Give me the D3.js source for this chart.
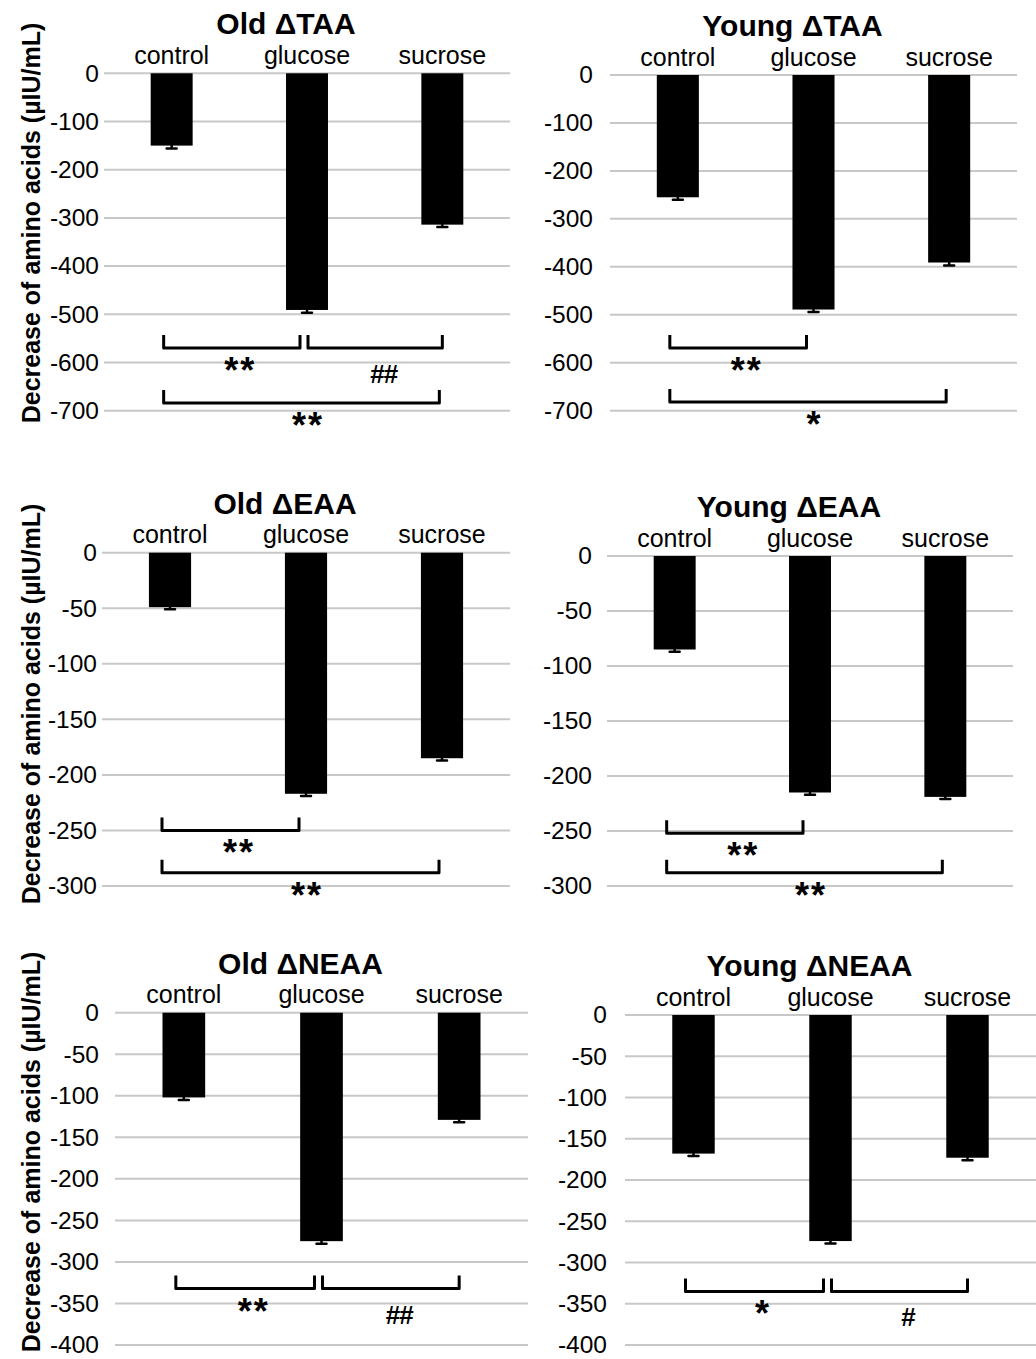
<!DOCTYPE html>
<html>
<head>
<meta charset="utf-8">
<script src="https://cdn.jsdelivr.net/npm/d3@7"></script>
<style>
body { margin: 0; background: #fff; }
svg { display: block; }
text { font-family: "Liberation Sans", Arial, sans-serif; fill: #000; }
</style>
</head>
<body>
<div id="chart"></div>
<script>
var categories = ["control", "glucose", "sucrose"];
var titles = ["Old ΔTAA", "Young ΔTAA", "Old ΔEAA", "Young ΔEAA", "Old ΔNEAA", "Young ΔNEAA"];
var yTitle = "Decrease of amino acids (µIU/mL)";

// bar heights (negative = decrease) and their small error bars
var oldTAA = [-150, -491, -314];
var youngTAA = [-255, -489, -391];
var oldEAA = [-49, -217, -185];
var youngEAA = [-85, -215, -219];
var oldNEAA = [-102, -275, -129];
var youngNEAA = [-168, -274, -173];

var oldTAAErr = [6, 6, 5];
var youngTAAErr = [5, 5, 6];
var oldEAAErr = [2, 2, 2];
var youngEAAErr = [2, 2, 2];
var oldNEAAErr = [3, 3, 3];
var youngNEAAErr = [3, 3, 3];

var taaTicks = [0, -100, -200, -300, -400, -500, -600, -700];
var eaaTicks = [0, -50, -100, -150, -200, -250, -300];
var neaaTicks = [0, -50, -100, -150, -200, -250, -300, -350, -400];

// significance brackets: from/to = category index, at = bracket level
var oldTAASig = [
    {from: 0, to: 1, at: -570, label: "**"},
    {from: 1, to: 2, at: -570, label: "##"},
    {from: 0, to: 2, at: -684, label: "**"}
];
var youngTAASig = [
    {from: 0, to: 1, at: -569, label: "**"},
    {from: 0, to: 2, at: -682, label: "*"}
];
var oldEAASig = [
    {from: 0, to: 1, at: -250, label: "**"},
    {from: 0, to: 2, at: -288, label: "**"}
];
var youngEAASig = [
    {from: 0, to: 1, at: -252, label: "**"},
    {from: 0, to: 2, at: -288, label: "**"}
];
var oldNEAASig = [
    {from: 0, to: 1, at: -332, label: "**"},
    {from: 1, to: 2, at: -332, label: "##"}
];
var youngNEAASig = [
    {from: 0, to: 1, at: -335, label: "*"},
    {from: 1, to: 2, at: -335, label: "#"}
];

var series = [oldTAA, youngTAA, oldEAA, youngEAA, oldNEAA, youngNEAA];
var errors = [oldTAAErr, youngTAAErr, oldEAAErr, youngEAAErr, oldNEAAErr, youngNEAAErr];
var tickSets = [taaTicks, taaTicks, eaaTicks, eaaTicks, neaaTicks, neaaTicks];
var sigs = [oldTAASig, youngTAASig, oldEAASig, youngEAASig, oldNEAASig, youngNEAASig];

// where each panel sits on the page (labelY = centre of the rotated y title)
var layout = [
    {x0: 104, x1: 510, y0: 73.3, y1: 410.7, pad: 5, labelY: 223},
    {x0: 610, x1: 1017, y0: 75, y1: 410.7, pad: 17, labelY: null},
    {x0: 102, x1: 510, y0: 552.7, y1: 886, pad: 5, labelY: 704},
    {x0: 607, x1: 1013, y0: 556, y1: 886, pad: 15, labelY: null},
    {x0: 115, x1: 528, y0: 1012.7, y1: 1345, pad: 16, labelY: 1152},
    {x0: 625, x1: 1036, y0: 1015, y1: 1345, pad: 18, labelY: null}
];

var width = 1036, height = 1359;
var svg = d3.select("#chart").append("svg")
    .attr("width", width)
    .attr("height", height);

function drawPanel(i) {
    var L = layout[i];
    var values = series[i], errs = errors[i], ticks = tickSets[i];
    var g = svg.append("g");

    var xScale = d3.scaleBand()
        .domain(categories)
        .range([L.x0, L.x1])
        .paddingInner(0.69)
        .paddingOuter(0.345);
    var yScale = d3.scaleLinear()
        .domain([0, d3.min(ticks)])
        .range([L.y0, L.y1]);
    var bw = xScale.bandwidth();
    var cx = function (k) { return xScale(categories[k]) + bw / 2; };

    // gridlines
    g.selectAll("line.grid")
        .data(ticks)
        .join("line")
        .attr("class", "grid")
        .attr("x1", L.x0)
        .attr("x2", L.x1)
        .attr("y1", function (d) { return yScale(d); })
        .attr("y2", function (d) { return yScale(d); })
        .attr("stroke", "#c8c8c8")
        .attr("stroke-width", 2);

    // y axis labels only
    var ax = g.append("g")
        .attr("transform", "translate(" + L.x0 + ",0)")
        .call(d3.axisLeft(yScale).tickValues(ticks).tickSize(0).tickPadding(L.pad)
            .tickFormat(function (d) { return String(d); }));
    ax.select(".domain").remove();
    ax.selectAll("text")
        .attr("font-size", 24.5)
        .attr("font-family", "Liberation Sans, Arial, sans-serif")
        .attr("fill", "#000");

    // bars
    g.selectAll("rect.bar")
        .data(values)
        .join("rect")
        .attr("class", "bar")
        .attr("x", function (d, k) { return xScale(categories[k]); })
        .attr("y", yScale(0))
        .attr("width", bw)
        .attr("height", function (d) { return yScale(d) - yScale(0); })
        .attr("fill", "#000");

    // error bars
    g.selectAll("path.err")
        .data(values)
        .join("path")
        .attr("class", "err")
        .attr("d", function (d, k) {
            var x = cx(k), yv = yScale(d), ye = yScale(d - errs[k]);
            return "M" + x + "," + yv + "L" + x + "," + ye + "M" + (x - 5) + "," + ye + "L" + (x + 5) + "," + ye;
        })
        .attr("fill", "none")
        .attr("stroke", "#000")
        .attr("stroke-width", 2.5)
        .attr("stroke-linecap", "round");

    // category names above the zero line
    g.selectAll("text.cat")
        .data(categories)
        .join("text")
        .attr("class", "cat")
        .attr("x", function (d, k) { return cx(k); })
        .attr("y", yScale(0) - 9.5)
        .attr("text-anchor", "middle")
        .attr("font-size", 25)
        .text(function (d) { return d; });

    // title
    g.append("text")
        .attr("x", (L.x0 + L.x1) / 2 - 21)
        .attr("y", yScale(0) - 39)
        .attr("text-anchor", "middle")
        .attr("font-size", 30)
        .attr("font-weight", "bold")
        .text(titles[i]);

    if (L.labelY !== null) {
        g.append("text")
            .attr("transform", "translate(40," + L.labelY + ") rotate(-90)")
            .attr("text-anchor", "middle")
            .attr("font-size", 25)
            .attr("font-weight", "bold")
            .text(yTitle);
    }

    // significance brackets
    sigs[i].forEach(function (s) {
        var xa = cx(s.from) + (s.from === 0 ? -8 : 1);
        var xb = cx(s.to) + (s.from === 0 ? (s.to === 1 ? -7 : -3) : 0);
        var ly = yScale(s.at);
        g.append("path")
            .attr("d", "M" + xa + "," + (ly - 13) + "L" + xa + "," + ly + "L" + xb + "," + ly + "L" + xb + "," + (ly - 13))
            .attr("fill", "none")
            .attr("stroke", "#000")
            .attr("stroke-width", 3)
            .attr("stroke-linejoin", "round");
        var isStar = s.label.indexOf("*") >= 0;
        g.append("text")
            .attr("x", (cx(s.from) + cx(s.to)) / 2 + (isStar ? 1 : 9))
            .attr("y", ly + 35)
            .attr("text-anchor", "middle")
            .attr("font-size", isStar ? 36 : 26)
            .attr("font-weight", "bold")
            .attr("letter-spacing", isStar ? 2 : -1)
            .text(s.label);
    });
}

for (var i = 0; i < layout.length; i++) {
    drawPanel(i);
}
</script>
</body>
</html>
